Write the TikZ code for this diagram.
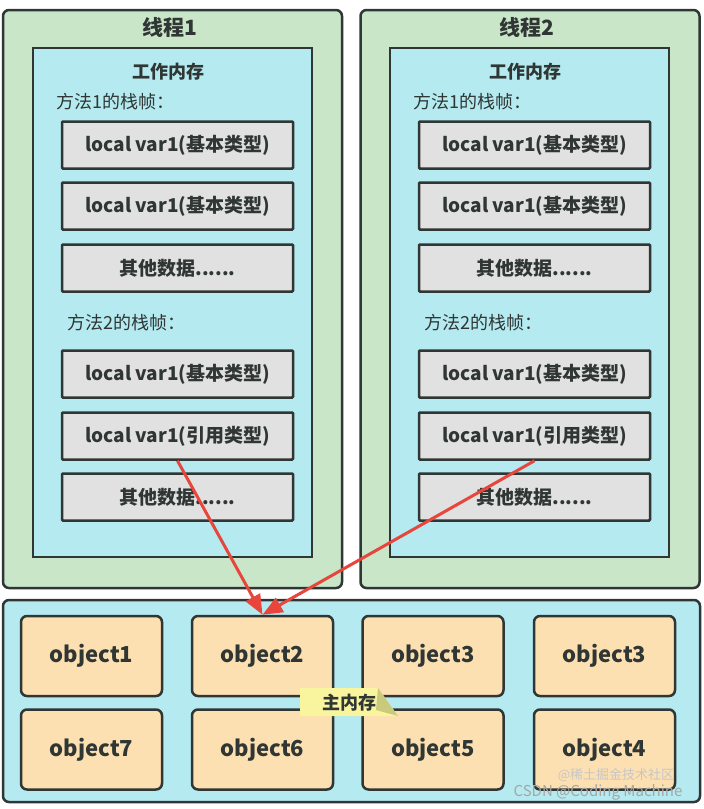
\documentclass[tikz,border=0pt]{standalone}
\usepackage{fontspec}
\setmainfont{Noto Sans CJK SC}
\usetikzlibrary{arrows.meta}

\definecolor{edge}{HTML}{2F3633}
\definecolor{threadgreen}{HTML}{C9E6C9}
\definecolor{memcyan}{HTML}{B4EAF0}
\definecolor{slotgray}{HTML}{E1E1E1}
\definecolor{objorange}{HTML}{FDE0B2}
\definecolor{notey}{HTML}{F8F59E}
\definecolor{notefold}{HTML}{CACA7C}
\definecolor{refred}{HTML}{E8453C}

\begin{document}
\begin{tikzpicture}[
	x=1pt, y=-1pt,
	thread/.style = {rectangle, rounded corners=6, draw=edge, fill=threadgreen, line width=2.5, minimum width=339, minimum height=578},
	work/.style   = {rectangle, draw=edge, fill=memcyan, line width=2.5, minimum width=279, minimum height=509},
	slot/.style   = {rectangle, rounded corners=1, draw=edge, fill=slotgray, line width=2.5, minimum width=231, minimum height=47, font=\fontsize{19}{21}\selectfont\bfseries, text=edge},
	heap/.style   = {rectangle, rounded corners=6, draw=edge, fill=memcyan, line width=2.5, minimum width=697, minimum height=202},
	obj/.style    = {rectangle, rounded corners=6, draw=edge, fill=objorange, line width=2.5, minimum width=141, minimum height=80, font=\fontsize{22}{24}\selectfont\bfseries, text=edge},
	title/.style  = {font=\fontsize{21}{24}\selectfont\bfseries, text=edge},
	sub/.style    = {font=\fontsize{18}{20}\selectfont\bfseries, text=edge},
	frame/.style  = {anchor=west, font=\fontsize{18}{20}\selectfont, text=edge},
	r/.style      = {-{Triangle[length=20, width=16]}, draw=refred, line width=3}
	]
	\useasboundingbox (0, 0) rectangle (704, 809);
	
	% ===== ===== ===== ===== =====
	
	% Thread 1
	\node[thread]	(th1)	at	(172.5, 299)	{};
	\node[work]	(wm1)	at	(172.5, 302.5)	{};
	\node[title]	(tt1)	at	(170, 27)	{线程1};
	\node[sub]	(ws1)	at	(168, 72)	{工作内存};
	
	\node[frame]	(f11)	at	(53, 102)	{方法1的栈帧：};
	\node[slot]	(s111)	at	(177.5, 145)	{local var1(基本类型)};
	\node[slot]	(s112)	at	(177.5, 206)	{local var1(基本类型)};
	\node[slot]	(s113)	at	(177.5, 268)	{其他数据......};
	
	\node[frame]	(f12)	at	(64, 323)	{方法2的栈帧：};
	\node[slot]	(s121)	at	(177.5, 374)	{local var1(基本类型)};
	\node[slot]	(ref1)	at	(177.5, 436)	{local var1(引用类型)};
	\node[slot]	(s123)	at	(177.5, 497)	{其他数据......};
	
	% ===== ===== ===== ===== =====
	
	% Thread 2
	\node[thread]	(th2)	at	(530, 299)	{};
	\node[work]	(wm2)	at	(529.5, 302.5)	{};
	\node[title]	(tt2)	at	(527, 27)	{线程2};
	\node[sub]	(ws2)	at	(525, 72)	{工作内存};
	
	\node[frame]	(f21)	at	(410, 102)	{方法1的栈帧：};
	\node[slot]	(s211)	at	(534.5, 145)	{local var1(基本类型)};
	\node[slot]	(s212)	at	(534.5, 206)	{local var1(基本类型)};
	\node[slot]	(s213)	at	(534.5, 268)	{其他数据......};
	
	\node[frame]	(f22)	at	(421, 323)	{方法2的栈帧：};
	\node[slot]	(s221)	at	(534.5, 374)	{local var1(基本类型)};
	\node[slot]	(ref2)	at	(534.5, 436)	{local var1(引用类型)};
	\node[slot]	(s223)	at	(534.5, 497)	{其他数据......};
	
	% ===== ===== ===== ===== =====
	
	% Main memory
	\node[heap]	(main)	at	(351.5, 701)	{};
	
	\node[obj]	(o1)	at	(91.5, 656)	{object1};
	\node[obj]	(o2)	at	(262.5, 656)	{object2};
	\node[obj]	(o3)	at	(433, 656)	{object3};
	\node[obj]	(o4)	at	(604.5, 656)	{object3};
	
	\node[obj]	(o5)	at	(91.5, 749.5)	{object7};
	\node[obj]	(o6)	at	(262.5, 749.5)	{object6};
	\node[obj]	(o7)	at	(433, 749.5)	{object5};
	\node[obj]	(o8)	at	(604.5, 749.5)	{object4};
	
	% Note
	\fill[notey] (300, 688) -- (378, 688) -- (398, 716) -- (300, 716) -- cycle;
	\fill[notefold] (378, 688) -- (398, 716) -- (376, 710) -- cycle;
	\node[sub]	(note)	at	(349, 703)	{主内存};
	
	% ===== ===== ===== ===== =====
	
	% Lines
	\draw[r]	(ref1.south)	to	(o2.north);
	\draw[r]	(ref2.south)	to	(o2.north);
	
	% Watermark
	\node[text=gray!45, font=\fontsize{13}{15}\selectfont]	(wm)	at	(616, 775)	{@稀土掘金技术社区};
	\node[text=gray!70, font=\fontsize{15}{17}\selectfont]	(csdn)	at	(598, 792)	{CSDN @Coding Machine};
	
\end{tikzpicture}
\end{document}
